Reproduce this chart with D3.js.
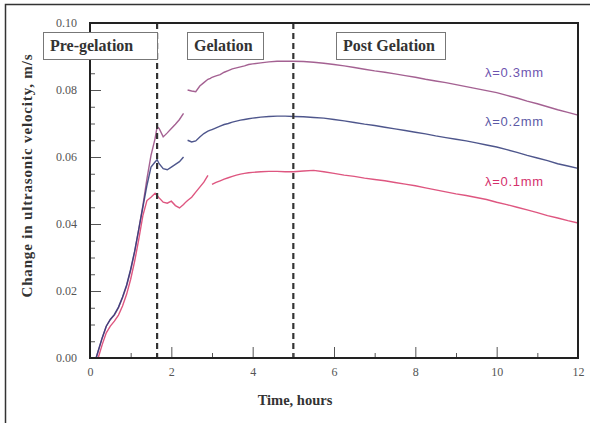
<!DOCTYPE html>
<html>
<head>
<meta charset="utf-8">
<script src="https://cdn.jsdelivr.net/npm/d3@7"></script>
<style>
  body { margin: 0; background: #fff; }
  svg { display: block; }
</style>
</head>
<body>
<div id="chart"></div>
<script>
var w = 590;
var h = 423;

// time grid, hours
var times = [0.15, 0.2, 0.3, 0.4, 0.5, 0.6, 0.7, 0.8, 0.9, 1.0, 1.1, 1.2, 1.3, 1.4, 1.5, 1.6, 1.65, 1.7,
    1.8, 1.9, 2.0, 2.1, 2.2, 2.3, 2.36, 2.4, 2.5, 2.6, 2.7, 2.8, 2.9, 2.96, 3.0, 3.1, 3.2, 3.3, 3.4,
    3.5, 3.6, 3.7, 3.8, 3.9, 4.0, 4.2, 4.4, 4.6, 4.8, 5.0, 5.25, 5.5, 5.75, 6.0, 6.25, 6.5, 6.75, 7.0,
    7.25, 7.5, 7.75, 8.0, 8.25, 8.5, 8.75, 9.0, 9.25, 9.5, 9.75, 10.0, 10.25, 10.5, 10.75, 11.0, 11.25,
    11.5, 11.75, 12.0];

// change in velocity (m/s), null = gap in the record
var lambda03 = [0.000, 0.002, 0.006, 0.0095, 0.0115, 0.0128, 0.0150, 0.0180, 0.0215, 0.0262, 0.0318,
    0.0385, 0.0455, 0.0535, 0.0605, 0.0655, 0.0690, 0.0685, 0.0660, 0.0672, 0.0685, 0.0698, 0.0712,
    0.0730, null, 0.0800, 0.0797, 0.0795, 0.0812, 0.0822, 0.0832, 0.0835, 0.0838, 0.0842, 0.0846,
    0.0853, 0.0858, 0.0863, 0.0866, 0.0869, 0.0872, 0.0876, 0.0878, 0.0881, 0.0884, 0.0886, 0.0886,
    0.0886, 0.0885, 0.0883, 0.0880, 0.0876, 0.0872, 0.0867, 0.0862, 0.0857, 0.0853, 0.0848, 0.0843,
    0.0838, 0.0832, 0.0827, 0.0822, 0.0816, 0.0810, 0.0804, 0.0798, 0.0792, 0.0784, 0.0776, 0.0767,
    0.0759, 0.0750, 0.0741, 0.0733, 0.0725];
var lambda02 = [0.000, 0.002, 0.006, 0.0095, 0.0115, 0.0130, 0.0152, 0.0182, 0.0218, 0.0265, 0.0320,
    0.0385, 0.0450, 0.0515, 0.0570, 0.0585, 0.0592, 0.0580, 0.0565, 0.0562, 0.0570, 0.0578, 0.0586,
    0.0600, null, 0.0650, 0.0645, 0.0648, 0.0660, 0.0670, 0.0677, 0.0680, 0.0682, 0.0687, 0.0692,
    0.0697, 0.0700, 0.0704, 0.0707, 0.0710, 0.0712, 0.0714, 0.0716, 0.0719, 0.0721, 0.0722, 0.0722,
    0.0721, 0.0720, 0.0718, 0.0716, 0.0712, 0.0708, 0.0703, 0.0698, 0.0694, 0.0689, 0.0684, 0.0679,
    0.0674, 0.0669, 0.0663, 0.0658, 0.0653, 0.0648, 0.0642, 0.0636, 0.0630, 0.0622, 0.0614, 0.0605,
    0.0597, 0.0589, 0.0580, 0.0573, 0.0566];
var lambda01 = [null, 0.000, 0.004, 0.0075, 0.0095, 0.0110, 0.0128, 0.0155, 0.0190, 0.0235, 0.0290,
    0.0355, 0.0425, 0.0470, 0.0480, 0.0492, 0.0485, 0.0478, 0.0465, 0.0462, 0.0468, 0.0455, 0.0448,
    0.0458, 0.0466, 0.0470, 0.0480, 0.0495, 0.0510, 0.0525, 0.0545, null, 0.0518, 0.0524, 0.0529,
    0.0534, 0.0538, 0.0542, 0.0546, 0.0549, 0.0551, 0.0553, 0.0554, 0.0556, 0.0557, 0.0557, 0.0556,
    0.0556, 0.0558, 0.0560, 0.0556, 0.0551, 0.0546, 0.0542, 0.0537, 0.0533, 0.0529, 0.0524, 0.0519,
    0.0514, 0.0508, 0.0502, 0.0496, 0.0490, 0.0485, 0.0479, 0.0473, 0.0465, 0.0458, 0.0450, 0.0442,
    0.0434, 0.0425, 0.0418, 0.0410, 0.0403];

var seriesNames = ["λ=0.3mm", "λ=0.2mm", "λ=0.1mm"];
var seriesColors = ["#94457f", "#2f3878", "#d8386a"];
var labelColors = ["#6e55b0", "#5c5aa6", "#d4306c"];
var labelAt = [0.085, 0.0705, 0.0525]; // y value where each label sits

var phaseNames = ["Pre-gelation", "Gelation", "Post Gelation"];
var phaseLines = [1.65, 5.0];

var xTicks = [0, 2, 4, 6, 8, 10, 12];
var xMinor = [1, 3, 5, 7, 9, 11];
var yTicks = [0, 0.02, 0.04, 0.06, 0.08, 0.10];
var yMinor = [0.005, 0.01, 0.015, 0.025, 0.03, 0.035, 0.045, 0.05, 0.055, 0.065, 0.07, 0.075, 0.085, 0.09, 0.095];

var svg = d3.select("#chart")
            .append("svg")
            .attr("width", w)
            .attr("height", h);

// outer frame (top and left edges only are visible)
svg.append("path")
    .attr("d", "M5.5," + h + "V4.5H" + w)
    .attr("fill", "none")
    .attr("stroke", "#333")
    .attr("stroke-width", 1.5);

var xScale = d3.scaleLinear().domain([0, 12]).range([90, 578]);
var yScale = d3.scaleLinear().domain([0, 0.1]).range([358, 23]);

var serif = "'Liberation Serif', 'DejaVu Serif', serif";

// lines
var line = d3.line()
    .defined(d => d[1] !== null)
    .x(d => xScale(d[0]))
    .y(d => yScale(d[1]));

[lambda03, lambda02, lambda01].forEach(function(vals, i) {
    svg.append("path")
        .datum(times.map((t, j) => [t, vals[j]]))
        .attr("fill", "none")
        .attr("stroke", seriesColors[i])
        .attr("stroke-width", 1.4)
        .attr("stroke-opacity", 0.85)
        .attr("d", line);
});

// phase dividers
svg.selectAll(".phase")
    .data(phaseLines)
    .enter()
    .append("line")
    .attr("x1", d => xScale(d))
    .attr("x2", d => xScale(d))
    .attr("y1", yScale(0.1))
    .attr("y2", yScale(0))
    .attr("stroke", "#333")
    .attr("stroke-width", 2.2)
    .attr("stroke-dasharray", "6,4");

// axes, ticks inward
var yAxis = d3.axisLeft(yScale).tickValues(yTicks).tickSize(-11).tickPadding(13)
    .tickFormat(d3.format(".2f"));
var yAxisMinor = d3.axisLeft(yScale).tickValues(yMinor).tickSize(-5).tickFormat("");
var xAxis = d3.axisBottom(xScale).tickValues(xTicks).tickSize(-11).tickPadding(9)
    .tickFormat(d3.format("d"));
var xAxisMinor = d3.axisBottom(xScale).tickValues(xMinor).tickSize(-5).tickFormat("");

[[yAxis, "translate(90,0)"], [yAxisMinor, "translate(90,0)"],
 [xAxis, "translate(0,358)"], [xAxisMinor, "translate(0,358)"]].forEach(function(a) {
    var g = svg.append("g")
        .attr("transform", a[1])
        .call(a[0]);
    g.select(".domain").remove();
    g.selectAll(".tick line").attr("stroke", "#555");
    g.selectAll(".tick text")
        .attr("fill", "#555")
        .style("font-family", serif)
        .style("font-size", "12px");
});

// plot frame
svg.append("rect")
    .attr("x", xScale(0))
    .attr("y", yScale(0.1))
    .attr("width", xScale(12) - xScale(0))
    .attr("height", yScale(0) - yScale(0.1))
    .attr("fill", "none")
    .attr("stroke", "#222")
    .attr("stroke-width", 2);

// phase boxes
var boxes = [[43, 114], [187, 76], [336, 109]];
boxes.forEach(function(b, i) {
    svg.append("rect")
        .attr("x", b[0] + 0.5)
        .attr("y", 32.5)
        .attr("width", b[1])
        .attr("height", 27)
        .attr("fill", "#fff")
        .attr("stroke", "#777")
        .attr("stroke-width", 1);
    svg.append("text")
        .attr("x", b[0] + 7)
        .attr("y", 51)
        .attr("fill", "#333")
        .style("font-family", serif)
        .style("font-weight", "bold")
        .style("font-size", "16px")
        .text(phaseNames[i]);
});

// series labels
svg.selectAll(".lab")
    .data(seriesNames)
    .enter()
    .append("text")
    .attr("x", 485)
    .attr("y", (d, i) => yScale(labelAt[i]) + 4)
    .attr("fill", (d, i) => labelColors[i])
    .attr("textLength", 58)
    .style("font-family", "'Liberation Sans', Arial, sans-serif")
    .style("font-size", "13px")
    .text(d => d);

// axis titles
svg.append("text")
    .attr("x", 295)
    .attr("y", 405)
    .attr("text-anchor", "middle")
    .attr("fill", "#333")
    .style("font-family", serif)
    .style("font-weight", "bold")
    .style("font-size", "14.5px")
    .text("Time, hours");

svg.append("text")
    .attr("transform", "translate(32,176) rotate(-90)")
    .attr("text-anchor", "middle")
    .attr("fill", "#333")
    .attr("textLength", 243)
    .style("font-family", serif)
    .style("font-weight", "bold")
    .style("font-size", "15px")
    .text("Change in ultrasonic velocity, m/s");
</script>
</body>
</html>
